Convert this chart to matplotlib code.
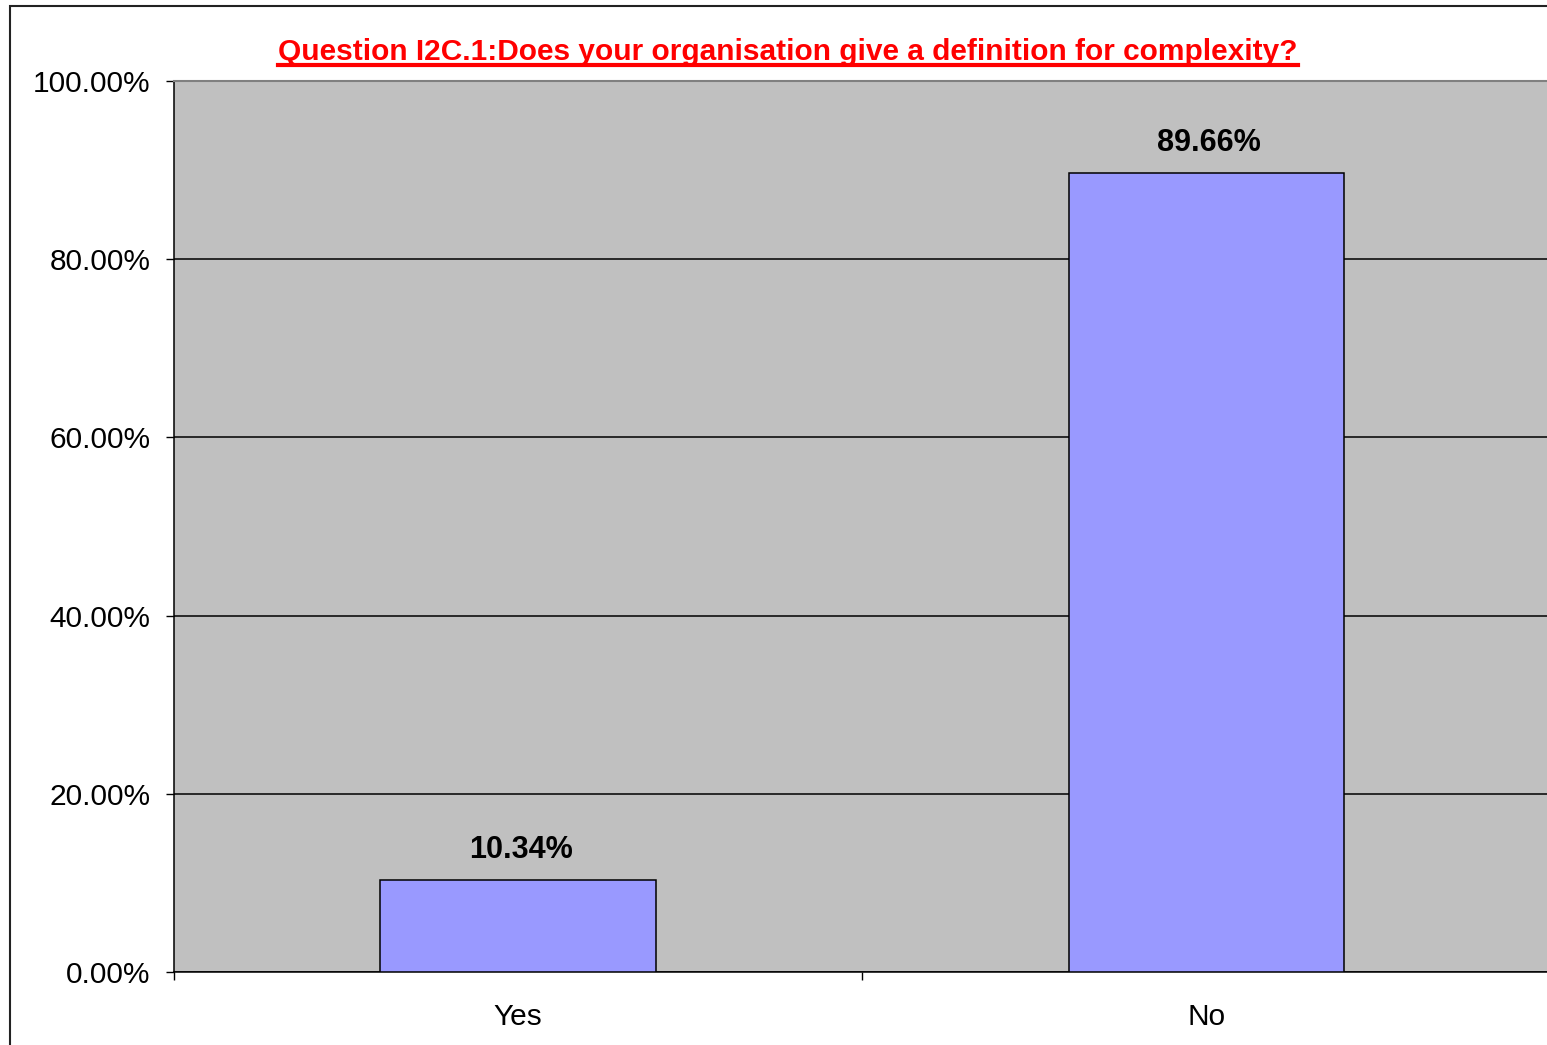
import matplotlib
matplotlib.use("Agg")
import matplotlib.pyplot as plt
from matplotlib.patches import Rectangle
from matplotlib.lines import Line2D
from matplotlib.ticker import FuncFormatter

# data
categories = ["Yes", "No"]
shares = [10.34, 89.66]
y_ticks = [0, 20, 40, 60, 80, 100]
title = "Question I2C.1:Does your organisation give a definition for complexity?"

plt.rcParams['font.family'] = ['Liberation Sans', 'DejaVu Sans']

W, H = 1547, 1045
fig = plt.figure(figsize=(W / 100, H / 100), dpi=100)
fig.patch.set_facecolor('white')

# chart border (only left and top edges fall inside the image)
fig.patches.append(Rectangle((10 / W, -0.05), 1.2, 1 - 6 / H + 0.05,
                             transform=fig.transFigure, fill=False,
                             edgecolor='#222222', linewidth=1.5))

ax = fig.add_axes([174 / W, 73 / H, (1550.5 - 174) / W, 891 / H])
ax.set_facecolor('#C0C0C0')

x = list(range(len(categories)))
ax.bar(x, shares, width=0.4, color='#9999FF', edgecolor='black', linewidth=1.1, zorder=3)

for xi, v in zip(x, shares):
    ax.annotate(f"{v:.2f}%", (xi, v), xytext=(2, 16), textcoords='offset points',
                ha='center', va='baseline', fontsize=22, fontweight='bold', zorder=4)

ax.set_xlim(-0.5, len(categories) - 0.5)
ax.set_ylim(0, 100)
ax.set_yticks(y_ticks)
ax.yaxis.set_major_formatter(FuncFormatter(lambda v, p: f"{v:.2f}%"))
ax.tick_params(axis='y', direction='out', length=6, width=1, pad=11, labelsize=21.5)
ax.set_xticks(x)
ax.set_xticklabels(categories)
ax.set_xticks([i - 0.5 for i in range(len(categories) + 1)], minor=True)
ax.tick_params(axis='x', which='major', length=0, pad=22, labelsize=21.5)
ax.tick_params(axis='x', which='minor', direction='out', length=6, width=1)

ax.yaxis.grid(True, color='black', linewidth=1.1, zorder=1)
ax.set_axisbelow(True)
for side in ['left', 'bottom']:
    ax.spines[side].set_color('black')
    ax.spines[side].set_linewidth(1.1)
ax.spines['top'].set_color('#808080')
ax.spines['top'].set_linewidth(1.5)
ax.spines['right'].set_visible(False)

t = fig.text(788 / W, 1 - 60 / H, title, ha='center', va='baseline',
             fontsize=21.5, fontweight='bold', color='red')

# underline the title
fig.canvas.draw()
bb = t.get_window_extent()
yb = (H - 65) / H
fig.add_artist(Line2D([bb.x0 / W, bb.x1 / W], [yb, yb], transform=fig.transFigure,
                      color='red', linewidth=3))

fig.savefig('out.png', dpi=100)
